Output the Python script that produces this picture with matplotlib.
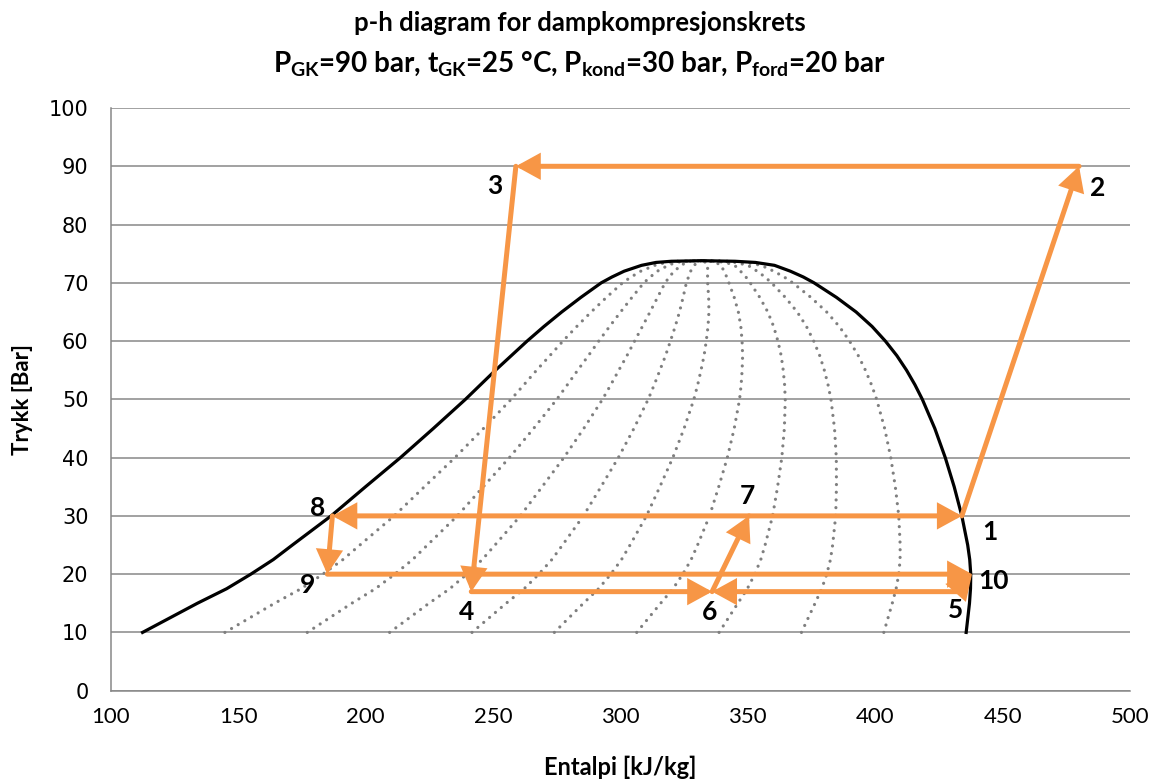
import numpy as np
import matplotlib
matplotlib.use("Agg")
from matplotlib import pyplot as plt

# saturation line for CO2 (R744): pressure [bar], liquid / vapour enthalpy [kJ/kg]
p_sat = [10, 15, 17.5, 20, 22.5, 25, 30, 35, 40, 45, 50, 52.5, 55, 57.5, 60, 62.5,
         65, 67.5, 70, 71, 72, 73, 73.5, 73.7, 73.8]
h_liq = [112.5, 134, 145.5, 155, 163.8, 171.3, 186.5, 200, 213.7, 226.6, 239.2,
         245.1, 251, 257.2, 263.4, 270, 277, 284.5, 292.5, 296.7, 301.5, 308.3, 314,
         320, 332]
h_vap = [435.7, 437, 437.4, 437.5, 437.1, 436.3, 434, 431, 427.5, 423.4, 418.5,
         415.6, 412.3, 408.5, 404, 398.8, 392.5, 384.8, 376, 371.8, 366.7, 360.5,
         353, 345, 332]

# constant vapour quality lines inside the dome
qualities = [0.1, 0.2, 0.3, 0.4, 0.5, 0.6, 0.7, 0.8, 0.9]

# cycle state points
point_no = ["1", "2", "3", "4", "5", "6", "7", "8", "9", "10"]
point_h = [434, 480, 259, 241.5, 432, 336, 350.5, 187, 185, 438]
point_p = [30, 90, 90, 17, 17, 17, 30, 30, 20, 20]

# process lines (from, to), arrow head at "to"
paths = [(1, 2), (2, 3), (3, 4), (4, 6), (5, 6), (6, 7), (7, 1), (7, 8),
         (8, 9), (9, 10), (5, 10)]

orange = "#F79646"
grid_col = "#878787"

fig = plt.figure(figsize=(11.59, 7.8), dpi=100)
ax = fig.add_axes([0.0955, 0.1145, 0.8795, 0.747])

# quality lines (lever rule between liquid and vapour enthalpy)
hl = np.array(h_liq)
hv = np.array(h_vap)
for x in qualities:
    ax.plot(hl + x * (hv - hl), p_sat, color="#7f7f7f", lw=2.3,
            linestyle=(0, (0.01, 2.4)), dash_capstyle="round", zorder=2)

# saturation dome
ax.plot(h_liq + h_vap[::-1], p_sat + p_sat[::-1], color="black", lw=2.3,
        solid_joinstyle="round", zorder=3)

# cycle
idx = {n: i for i, n in enumerate(point_no)}
for a, b in paths:
    i, j = idx[str(a)], idx[str(b)]
    ax.annotate("", xy=(point_h[j], point_p[j]), xytext=(point_h[i], point_p[i]),
                arrowprops=dict(arrowstyle="-|>,head_length=0.62,head_width=0.34",
                                color=orange, lw=3.6, mutation_scale=20,
                                shrinkA=0, shrinkB=0, joinstyle="miter",
                                capstyle="round"),
                zorder=4)

# point numbers, offset in pixels from each point
label_offset = [(28, -16), (19, -22), (-21, -20), (-5, -20), (-1, -18),
                (-3, -20), (-2, 20), (-15, 8), (-20, -11), (21, -7)]
for n, h, p, off in zip(point_no, point_h, point_p, label_offset):
    ax.annotate(n, xy=(h, p), xytext=off, textcoords="offset pixels",
                ha="center", va="center", fontsize=19, fontweight="bold",
                family="Lato", zorder=5)

ax.set_xlim(100, 500)
ax.set_ylim(0, 100)
ax.set_xticks(np.arange(100, 501, 50))
ax.set_yticks(np.arange(0, 101, 10))
ax.yaxis.grid(True, color=grid_col, lw=1.1)
ax.set_axisbelow(True)
for s in ["top", "right"]:
    ax.spines[s].set_visible(False)
for s in ["left", "bottom"]:
    ax.spines[s].set_color(grid_col)
    ax.spines[s].set_linewidth(1.1)
ax.tick_params(length=0)
ax.tick_params(axis="y", pad=16, labelsize=15)
ax.tick_params(axis="x", pad=12, labelsize=16)
for t in ax.get_xticklabels():
    t.set_family("Lato")

ax.set_xlabel("Entalpi [kJ/kg]", family="Lato", fontweight="bold", fontsize=17,
              va="center")
ax.xaxis.set_label_coords(0.5, -0.131)
ax.set_ylabel("Trykk [Bar]", family="Lato", fontweight="bold", fontsize=16,
              va="center")
ax.yaxis.set_label_coords(-0.087, 0.5)

plt.rcParams["mathtext.fontset"] = "custom"
plt.rcParams["mathtext.rm"] = "Lato:bold"
plt.rcParams["mathtext.it"] = "Lato:bold"
plt.rcParams["mathtext.bf"] = "Lato:bold"
fig.text(0.5, 1 - 31 / 780, "p-h diagram for dampkompresjonskrets", ha="center",
         va="baseline", family="Lato", fontweight="bold", fontsize=18.5)
fig.text(0.5, 1 - 71 / 780,
         r"P$_{GK}$=90 bar, t$_{GK}$=25 °C, P$_{kond}$=30 bar, P$_{ford}$=20 bar",
         ha="center", va="baseline", family="Lato", fontweight="bold", fontsize=20)

fig.savefig("out.png", dpi=100)
